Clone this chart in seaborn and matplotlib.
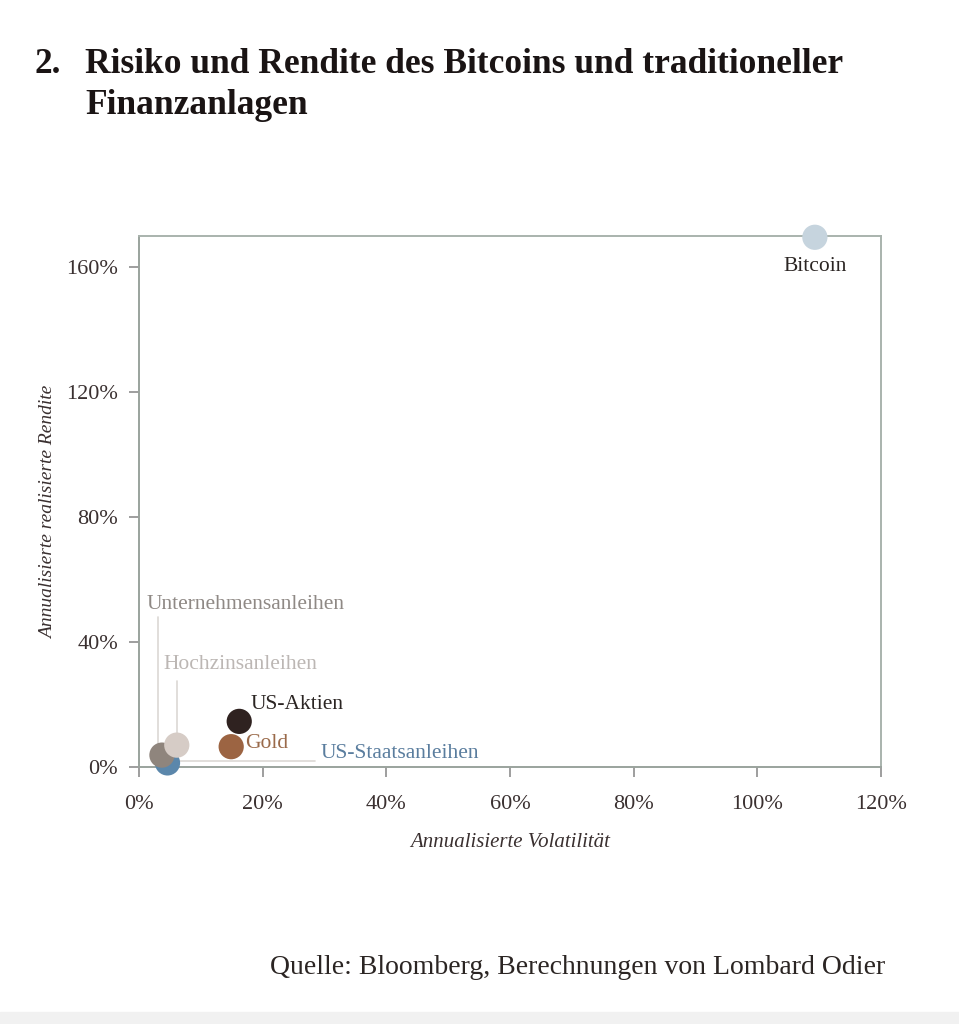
import matplotlib
matplotlib.use("Agg")
import matplotlib.pyplot as plt
import seaborn as sns
import pandas as pd
from matplotlib.ticker import FuncFormatter

sns.set_theme(style="white")
plt.rcParams['font.family'] = ['Liberation Serif', 'DejaVu Serif']

assets = ["Bitcoin", "US-Staatsanleihen", "Unternehmensanleihen", "Hochzinsanleihen", "Gold", "US-Aktien"]
volatility = [109.3, 4.6, 3.7, 6.1, 14.9, 16.2]
returns = [169.6, 1.3, 3.8, 7.0, 6.5, 14.6]
colors = ["#c6d4de", "#5b87ab", "#8f857d", "#d6ccc6", "#9c6442", "#2f2220"]
label_colors = ["#2b2523", "#5a7d9e", "#8f8985", "#bcb7b4", "#9a6a4a", "#2b2523"]

df = pd.DataFrame({"asset": assets, "vol": volatility, "ret": returns})

fig = plt.figure(figsize=(9.59, 10.24), dpi=100)
ax = fig.add_axes([0.145, 0.251, 0.7737, 0.5185])

sns.scatterplot(data=df, x="vol", y="ret", hue="asset", palette=dict(zip(assets, colors)),
                s=330, edgecolor="none", legend=False, ax=ax, clip_on=False, zorder=3)

ax.set_xlim(0, 120)
ax.set_ylim(0, 170)
ax.set_xticks([0, 20, 40, 60, 80, 100, 120])
ax.set_yticks([0, 40, 80, 120, 160])
fmt = FuncFormatter(lambda v, p: f"{int(v)}%")
ax.xaxis.set_major_formatter(fmt)
ax.yaxis.set_major_formatter(fmt)

for s in ax.spines.values():
    s.set_color("#a9b3ad")
    s.set_linewidth(1.4)
ax.spines["bottom"].set_color("#9aa39d")
ax.spines["left"].set_color("#9aa39d")
ax.tick_params(axis="both", which="major", direction="out", length=7, width=1.2,
               color="#8e8e8e", labelsize=16, labelcolor="#3a3030")
ax.tick_params(axis="x", pad=13)
ax.tick_params(axis="y", pad=8)
ax.tick_params(bottom=True, left=True)

ax.set_xlabel("Annualisierte Volatilität", fontsize=15, style="italic", color="#3a3030", labelpad=14)
ax.set_ylabel("Annualisierte realisierte Rendite", fontsize=14, style="italic", color="#3a3030", labelpad=7)
ax.yaxis.label.set_y(0.48)

# labels
lab = dict(zip(assets, label_colors))
fs = 15.5
ax.text(109.3, 160.3, "Bitcoin", ha="center", va="center", fontsize=fs, color=lab["Bitcoin"])
ax.text(18.0, 20.0, "US-Aktien", ha="left", va="center", fontsize=fs, color=lab["US-Aktien"])
ax.text(17.1, 7.6, "Gold", ha="left", va="center", fontsize=fs, color=lab["Gold"])
ax.text(29.4, 4.3, "US-Staatsanleihen", ha="left", va="center", fontsize=fs, color=lab["US-Staatsanleihen"])
ax.text(1.2, 52.0, "Unternehmensanleihen", ha="left", va="center", fontsize=fs, color=lab["Unternehmensanleihen"])
ax.text(4.0, 32.8, "Hochzinsanleihen", ha="left", va="center", fontsize=fs, color=lab["Hochzinsanleihen"])

# leader lines
ax.plot([3.0, 3.0], [48.0, 4.0], color="#dcd8d4", lw=1.2, zorder=1)
ax.plot([6.1, 6.1], [27.5, 9.5], color="#dcd8d4", lw=1.2, zorder=1)
ax.plot([5.5, 28.5], [1.9, 1.9], color="#dcd8d4", lw=1.2, zorder=1)

tfs = 25.5
fig.text(0.036, 0.937, "2.", fontsize=tfs, fontweight="bold", color="#1a1414", va="center")
fig.text(0.089, 0.937, "Risiko und Rendite des Bitcoins und traditioneller", fontsize=tfs,
         fontweight="bold", color="#1a1414", va="center")
fig.text(0.089, 0.897, "Finanzanlagen", fontsize=tfs, fontweight="bold", color="#1a1414", va="center")

fig.text(0.923, 0.055, "Quelle: Bloomberg, Berechnungen von Lombard Odier", fontsize=20,
         color="#2b2523", ha="right", va="center")

fig.patches.append(plt.Rectangle((0, 0), 1, 0.012, transform=fig.transFigure, color="#f1f1f1", zorder=0))

fig.savefig("out.png", dpi=100, facecolor="white")
